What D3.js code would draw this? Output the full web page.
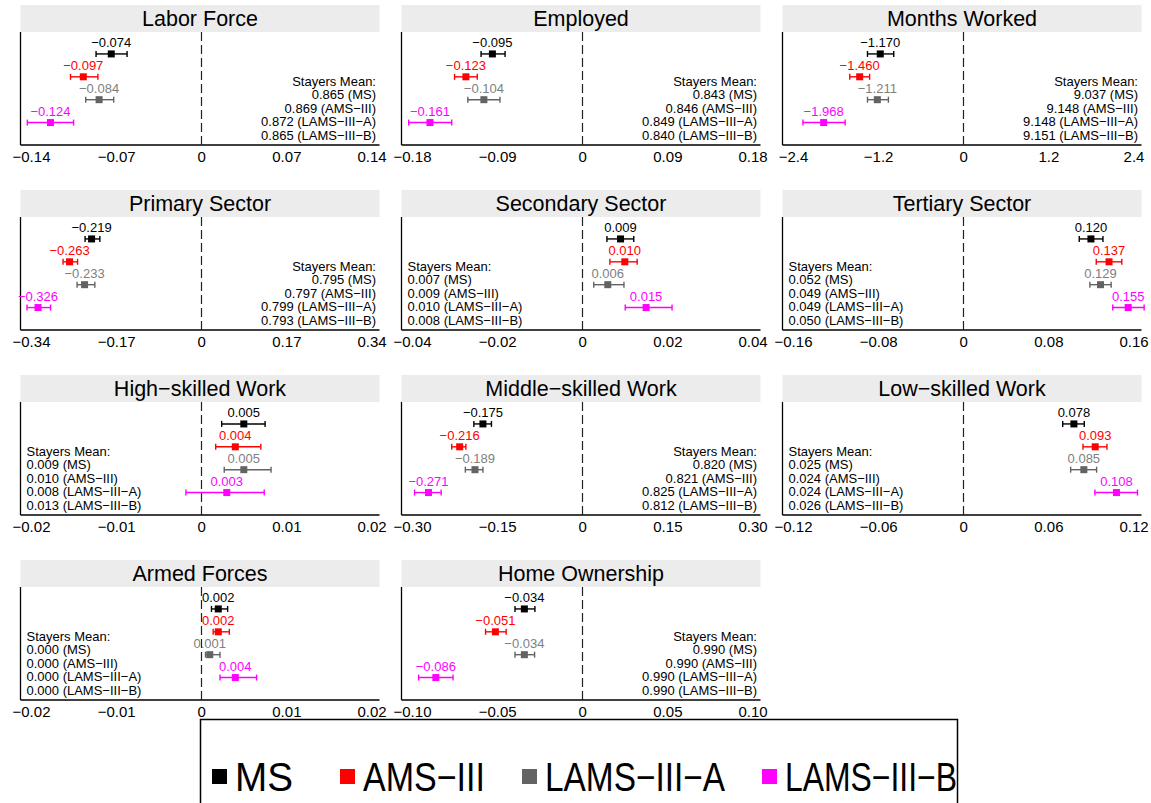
<!DOCTYPE html>
<html>
<head>
<meta charset="utf-8">
<script src="https://cdn.jsdelivr.net/npm/d3@7"></script>
<style>
  body { margin: 0; background: #fff; }
  svg { display: block; font-family: "Liberation Sans", Arial, Helvetica, sans-serif; }
</style>
</head>
<body>
<svg id="chart"></svg>
<script>
// datos
const panels = ["Labor Force", "Employed", "Months Worked", "Primary Sector", "Secondary Sector",
  "Tertiary Sector", "High\u2212skilled Work", "Middle\u2212skilled Work", "Low\u2212skilled Work",
  "Armed Forces", "Home Ownership"];
const series = ["MS", "AMS\u2212III", "LAMS\u2212III\u2212A", "LAMS\u2212III\u2212B"];
const seriesColors = ["#000000", "#ff0000", "#636363", "#ff00ff"];
const labelColors = ["#000000", "#ff0000", "#808080", "#ff00ff"];

// estimaciones puntuales (una fila por panel, una columna por serie)
const estimates = [
  [-0.074, -0.097, -0.084, -0.124],
  [-0.095, -0.123, -0.104, -0.161],
  [-1.170, -1.460, -1.211, -1.968],
  [-0.219, -0.263, -0.233, -0.326],
  [0.009, 0.010, 0.006, 0.015],
  [0.120, 0.137, 0.129, 0.155],
  [0.005, 0.004, 0.005, 0.003],
  [-0.175, -0.216, -0.189, -0.271],
  [0.078, 0.093, 0.085, 0.108],
  [0.002, 0.002, 0.001, 0.004],
  [-0.034, -0.051, -0.034, -0.086]
];
const ciLow = [
  [-0.0865, -0.1075, -0.095, -0.143],
  [-0.107, -0.135, -0.121, -0.1835],
  [-1.350, -1.600, -1.350, -2.260],
  [-0.232, -0.276, -0.248, -0.348],
  [0.0058, 0.0065, 0.0027, 0.0101],
  [0.109, 0.125, 0.119, 0.1405],
  [0.0024, 0.0017, 0.0027, -0.0018],
  [-0.191, -0.230, -0.206, -0.2955],
  [0.0701, 0.0844, 0.0757, 0.0928],
  [0.0012, 0.0014, 0.0005, 0.0022],
  [-0.0395, -0.0568, -0.0395, -0.0961]
];
const ciHigh = [
  [-0.061, -0.085, -0.072, -0.105],
  [-0.0816, -0.111, -0.087, -0.138],
  [-0.980, -1.320, -1.055, -1.665],
  [-0.2025, -0.247, -0.2125, -0.301],
  [0.0121, 0.0129, 0.0098, 0.0211],
  [0.1313, 0.149, 0.139, 0.170],
  [0.0075, 0.0070, 0.0082, 0.0074],
  [-0.160, -0.205, -0.175, -0.2486],
  [0.0853, 0.1013, 0.094, 0.1228],
  [0.0031, 0.0033, 0.0022, 0.0065],
  [-0.0278, -0.0447, -0.028, -0.0759]
];
const stayersMean = [
  ["0.865", "0.869", "0.872", "0.865"],
  ["0.843", "0.846", "0.849", "0.840"],
  ["9.037", "9.148", "9.148", "9.151"],
  ["0.795", "0.797", "0.799", "0.793"],
  ["0.007", "0.009", "0.010", "0.008"],
  ["0.052", "0.049", "0.049", "0.050"],
  ["0.009", "0.010", "0.008", "0.013"],
  ["0.820", "0.821", "0.825", "0.812"],
  ["0.025", "0.024", "0.024", "0.026"],
  ["0.000", "0.000", "0.000", "0.000"],
  ["0.990", "0.990", "0.990", "0.990"]
];
const stayersAlign = ["right", "right", "right", "right", "left", "left", "left", "right", "left", "left", "right"];
// limite de los ejes y decimales de las etiquetas
const tickMax = [0.14, 0.18, 2.4, 0.34, 0.04, 0.16, 0.02, 0.30, 0.12, 0.02, 0.10];
const tickDecimals = [2, 2, 1, 2, 2, 2, 2, 2, 2, 2, 2];

// constantes de layout
const WIDTH = 1151, HEIGHT = 803;
const colX = [20.5, 401.5, 782.5];
const rowY = [5, 190, 375, 560];
const panelW = 359, stripH = 27, plotH = 113;

const svg = d3.select("#chart").attr("width", WIDTH).attr("height", HEIGHT);

const minus = s => s.replace(/-/g, "\u2212");
const fmtVal = d3.format(".3f");

panels.forEach((titulo, p) => {
  const left = colX[p % 3];
  const top = rowY[Math.floor(p / 3)];
  const plotTop = top + stripH;
  const plotBottom = plotTop + plotH;
  const g = svg.append("g");

  // franja del titulo
  g.append("rect")
    .attr("x", left).attr("y", top)
    .attr("width", panelW).attr("height", stripH)
    .attr("fill", "#ececec");
  g.append("text")
    .attr("x", left + panelW / 2).attr("y", top + stripH / 2 + 7.5)
    .attr("text-anchor", "middle")
    .attr("font-size", 21.5)
    .attr("fill", "#000")
    .text(titulo);

  const m = tickMax[p];
  const x = d3.scaleLinear().domain([-m, m]).range([left + 10.5, left + 351]);
  const y = d3.scaleBand().domain(series).range([plotTop + 10.5, plotTop + 102]);

  // eje x
  const ticks = [-m, -m / 2, 0, m / 2, m];
  const fmtTick = d3.format("." + tickDecimals[p] + "f");
  const axis = d3.axisBottom(x)
    .tickValues(ticks)
    .tickSize(0)
    .tickPadding(6)
    .tickFormat(d => d === 0 ? "0" : minus(fmtTick(d)));
  const ax = g.append("g")
    .attr("transform", `translate(0,${plotBottom})`)
    .call(axis);
  ax.select(".domain").remove();
  ax.selectAll("text")
    .attr("font-size", 15)
    .attr("font-family", "Liberation Sans, Arial, sans-serif")
    .attr("fill", "#000");
  g.append("line")
    .attr("x1", left).attr("x2", left + panelW)
    .attr("y1", plotBottom).attr("y2", plotBottom)
    .attr("stroke", "#000").attr("stroke-width", 1.3);
  // eje y (solo la linea)
  g.append("line")
    .attr("x1", left).attr("x2", left)
    .attr("y1", plotTop).attr("y2", plotBottom)
    .attr("stroke", "#000").attr("stroke-width", 1.3);

  // linea punteada en cero
  g.append("line")
    .attr("x1", Math.round(x(0)) + 0.5).attr("x2", Math.round(x(0)) + 0.5)
    .attr("y1", plotTop).attr("y2", plotBottom)
    .attr("stroke", "#222").attr("stroke-width", 1.2)
    .attr("stroke-dasharray", "9,4");

  // barras de error
  const filas = series.map((s, i) => ({
    s, i, est: estimates[p][i], lo: ciLow[p][i], hi: ciHigh[p][i]
  }));
  const cy = d => y(d.s) + y.bandwidth() / 2;

  const eb = g.selectAll(".eb").data(filas).join("g").attr("class", "eb");
  eb.append("line")
    .attr("x1", d => x(d.lo)).attr("x2", d => x(d.hi))
    .attr("y1", cy).attr("y2", cy)
    .attr("stroke", d => seriesColors[d.i]).attr("stroke-width", 1.4);
  ["lo", "hi"].forEach(k => {
    eb.append("line")
      .attr("x1", d => x(d[k])).attr("x2", d => x(d[k]))
      .attr("y1", d => cy(d) - 3).attr("y2", d => cy(d) + 3)
      .attr("stroke", d => seriesColors[d.i]).attr("stroke-width", 1.4);
  });
  eb.append("rect")
    .attr("x", d => x(d.est) - 3.5).attr("y", d => cy(d) - 3.5)
    .attr("width", 7).attr("height", 7)
    .attr("fill", d => seriesColors[d.i]);
  eb.append("text")
    .attr("x", d => x(d.est)).attr("y", d => cy(d) - 6.5)
    .attr("text-anchor", "middle")
    .attr("font-size", 13)
    .attr("fill", d => labelColors[d.i])
    .text(d => minus(fmtVal(d.est)));

  // texto de medias de los "stayers"
  const alinear = stayersAlign[p];
  const tx = alinear === "right" ? left + 355.5 : left + 6;
  const lineas = ["Stayers Mean:"].concat(series.map((s, i) => `${stayersMean[p][i]} (${s})`));
  g.selectAll(".sm").data(lineas).join("text")
    .attr("class", "sm")
    .attr("x", tx)
    .attr("y", (d, i) => plotTop + 53.7 + i * 13.5)
    .attr("text-anchor", alinear === "right" ? "end" : "start")
    .attr("font-size", 13)
    .attr("fill", "#000")
    .text(d => d);
});

// leyenda
const leg = svg.append("g");
leg.append("rect")
  .attr("x", 200.5).attr("y", 719.5)
  .attr("width", 757).attr("height", 120)
  .attr("fill", "none").attr("stroke", "#000").attr("stroke-width", 1.5);
const legX = [212, 340, 522, 762];
const legTextW = [58, 122, 180, 172];
series.forEach((s, i) => {
  leg.append("rect")
    .attr("x", legX[i]).attr("y", 769)
    .attr("width", 15).attr("height", 15)
    .attr("fill", seriesColors[i]);
  leg.append("text")
    .attr("x", legX[i] + 23).attr("y", 791)
    .attr("font-size", 40)
    .attr("textLength", legTextW[i])
    .attr("lengthAdjust", "spacingAndGlyphs")
    .attr("fill", "#000")
    .text(s);
});
</script>
</body>
</html>
